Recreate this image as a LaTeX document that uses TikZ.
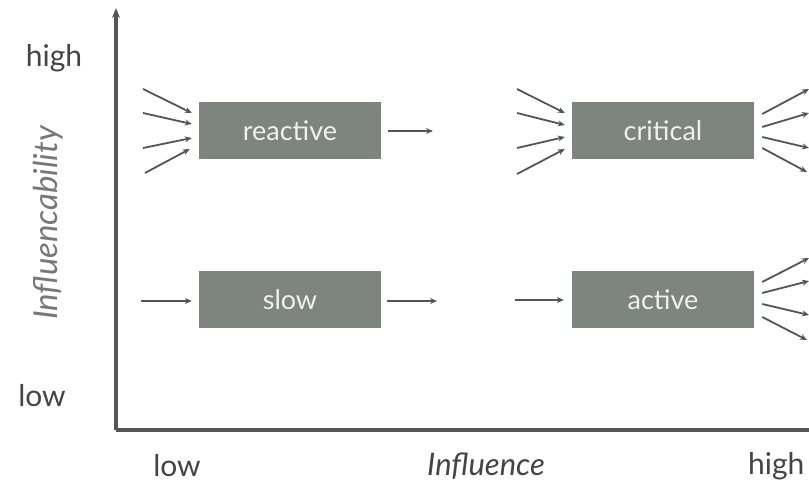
\documentclass[tikz,border=0pt]{standalone}
\usepackage{fontspec}
\setmainfont{Lato}
\usetikzlibrary{arrows.meta,calc}
\definecolor{boxgray}{HTML}{7E8580}
\definecolor{axisgray}{HTML}{555555}
\definecolor{labgray}{HTML}{444444}
\definecolor{arrgray}{HTML}{555555}
\begin{document}
\begin{tikzpicture}[x=1pt,y=-1pt,
  boxnode/.style={fill=boxgray,minimum width=182pt,minimum height=57pt,inner sep=0pt,text=white!94!black,font=\fontsize{27}{30}\selectfont},
  lab/.style={text=labgray,font=\fontsize{30}{33}\selectfont,inner sep=0pt},
  arr/.style={draw=arrgray,line width=1.8pt,-{Stealth[length=7pt,width=6pt]}},
  axis/.style={draw=axisgray,line width=3.4pt}]
\useasboundingbox (0,0) rectangle (809,484);
% axes
\coordinate (origin) at (116,430);
\coordinate (ytop) at (116,8);
\coordinate (xend) at (820,430);
\draw[axis,-{Stealth[length=10pt,width=8pt]}] (origin) -- (ytop);
\draw[axis] (origin) -- (xend);
% labels
\node[lab] (yhigh) at (54,58) {high};
\node[lab] (ylow) at (42,396) {low};
\node[lab,rotate=90,text=axisgray!80!white,font=\fontsize{33}{36}\selectfont\itshape] (ylab) at (48,223) {Influencability};
\node[lab] (xlow) at (177,466) {low};
\node[lab,font=\fontsize{31}{34}\selectfont\itshape] (xlab) at (486,466) {Influence};
\node[lab,anchor=west] (xhigh) at (748,466) {high};
% boxes
\node[boxnode] (reactive) at (290,130.5) {reactive};
\node[boxnode] (critical) at (663,130.5) {critical};
\node[boxnode] (slow) at (290,299.5) {slow};
\node[boxnode] (active) at (663,299.5) {active};
% reactive inputs
\coordinate (ri1) at (143,89);
\coordinate (ri2) at (143,113);
\coordinate (ri3) at (143,148);
\coordinate (ri4) at (145,173);
\draw[arr] (ri1) -- ($(reactive.west)+(-7,-17.5)$);
\draw[arr] (ri2) -- ($(reactive.west)+(-7,-6.5)$);
\draw[arr] (ri3) -- ($(reactive.west)+(-7,7.5)$);
\draw[arr] (ri4) -- ($(reactive.west)+(-9,18.5)$);
\coordinate (ro) at (433,131);
\draw[arr] ($(reactive.east)+(7,0.5)$) -- (ro);
% critical inputs
\coordinate (ci1) at (517,89);
\coordinate (ci2) at (517,113);
\coordinate (ci3) at (517,148);
\coordinate (ci4) at (517,174);
\draw[arr] (ci1) -- ($(critical.west)+(-7,-17.5)$);
\draw[arr] (ci2) -- ($(critical.west)+(-7,-5.5)$);
\draw[arr] (ci3) -- ($(critical.west)+(-7,6.5)$);
\draw[arr] (ci4) -- ($(critical.west)+(-7,18.5)$);
% critical outputs
\coordinate (co1) at (809,89);
\coordinate (co2) at (809,113);
\coordinate (co3) at (809,148);
\coordinate (co4) at (807,172);
\draw[arr] ($(critical.east)+(8,-16.5)$) -- (co1);
\draw[arr] ($(critical.east)+(8,-3.5)$) -- (co2);
\draw[arr] ($(critical.east)+(8,6.5)$) -- (co3);
\draw[arr] ($(critical.east)+(8,17.5)$) -- (co4);
% slow
\coordinate (si) at (141,301);
\draw[arr] (si) -- ($(slow.west)+(-7,1.5)$);
\coordinate (so) at (437,301);
\draw[arr] ($(slow.east)+(6,1.5)$) -- (so);
% active
\coordinate (ai) at (515,300);
\draw[arr] (ai) -- ($(active.west)+(-8,0.5)$);
\coordinate (ao1) at (809,258);
\coordinate (ao2) at (809,281);
\coordinate (ao3) at (809,315);
\coordinate (ao4) at (807,340);
\draw[arr] ($(active.east)+(8,-17.5)$) -- (ao1);
\draw[arr] ($(active.east)+(8,-6.5)$) -- (ao2);
\draw[arr] ($(active.east)+(8,4.5)$) -- (ao3);
\draw[arr] ($(active.east)+(8,17.5)$) -- (ao4);
\end{tikzpicture}
\end{document}
